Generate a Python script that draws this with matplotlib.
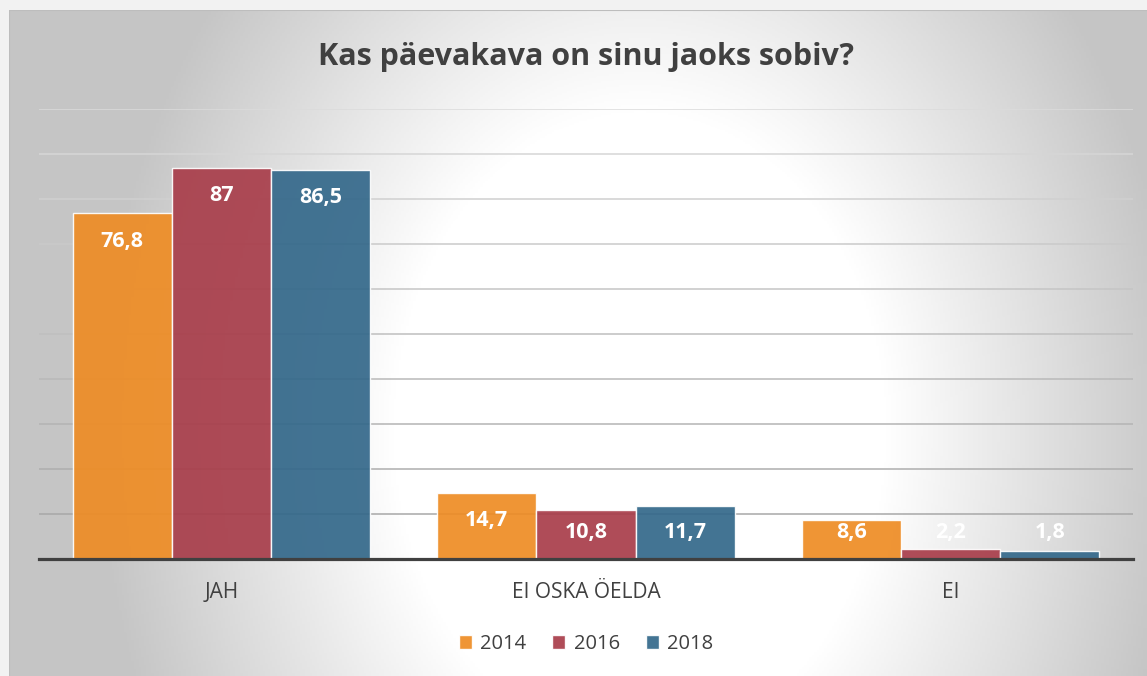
import numpy as np
import matplotlib
matplotlib.use("Agg")
import matplotlib.pyplot as plt

categories = ["JAH", "EI OSKA ÖELDA", "EI"]
years = ["2014", "2016", "2018"]
values_2014 = [76.8, 14.7, 8.6]
values_2016 = [87, 10.8, 2.2]
values_2018 = [86.5, 11.7, 1.8]
colors = ["#EE8C24", "#A83D4A", "#33688A"]
title = "Kas päevakava on sinu jaoks sobiv?"

plt.rcParams['font.family'] = ['Open Sans', 'DejaVu Sans']

W, H = 1147, 676
fig = plt.figure(figsize=(W/100, H/100), dpi=100)
fig.patch.set_facecolor("#f2f2f2")

# background gradient panel
x0, y0 = 9, 10
bg = fig.add_axes([x0/W, 0, 1 - x0/W, 1 - y0/H])
bg.set_axis_off()
xs = np.linspace(x0, W, 460)
ys = np.linspace(y0, H, 340)
X, Y = np.meshgrid(xs, ys)
cx, cy = 640, 430
t = np.sqrt(((X-cx)/620)**2 + ((Y-cy)/800)**2)
s = np.clip((t-0.4)/0.48, 0, 1)
v = 255 - 58*s
img = np.dstack([v, v, v]).astype(np.uint8)
bg.imshow(img, extent=[0, 1, 0, 1], aspect='auto', origin='upper')
bg.set_xlim(0, 1); bg.set_ylim(0, 1)
bg.plot([0, 1], [1, 1], color="#bdbdbd", lw=1.5)
bg.plot([0, 0], [0, 1], color="#bdbdbd", lw=1.5)

ax = fig.add_axes([39/W, (H-559)/H, (1133-39)/W, (559-109)/H])
ax.set_facecolor("none")
ax.set_xlim(-0.5, 2.5)
ax.set_ylim(0, 100)
for sp in ["top", "right", "left"]:
    ax.spines[sp].set_visible(False)
ax.spines["bottom"].set_color("#404040")
ax.spines["bottom"].set_linewidth(2.3)
ax.spines["bottom"].set_zorder(5)
ax.set_yticks([])
for g in range(10, 101, 10):
    c = 0.86 - 0.2*(100-g)/90
    ax.axhline(g, color=(c, c, c), lw=1.1, zorder=1)
ax.tick_params(axis='x', bottom=False, pad=13, labelsize=15, labelcolor="#404040")

xpos = np.arange(len(categories))
bw = 0.272
series = [values_2014, values_2016, values_2018]
for i, (vals, col, yr) in enumerate(zip(series, colors, years)):
    ax.bar(xpos + (i-1)*bw, vals, bw, color=col, alpha=0.92,
           edgecolor=(1, 1, 1, 0.5), lw=1, label=yr, zorder=2)
    for xb, val in zip(xpos + (i-1)*bw, vals):
        yl = max(val - 6.2, 5.8)
        ax.text(xb, yl, f"{val:g}".replace(".", ","), ha='center', va='center',
                color="white", fontsize=15.5, fontweight='bold', zorder=6)

ax.set_xticks(xpos)
ax.set_xticklabels(categories)

fig.text(586/W, 1 - 57/H, title, ha='center', va='center', fontsize=22,
         fontweight='bold', color="#404040")

leg = fig.legend(loc='center', bbox_to_anchor=(586/W, 1 - 644/H), ncol=3,
                 frameon=True, fontsize=14.5, handlelength=0.65, handleheight=0.65,
                 handletextpad=0.4, columnspacing=1.3, fancybox=False,
                 borderpad=0.5, facecolor="white", edgecolor="none", framealpha=0.2)
for txt in leg.get_texts():
    txt.set_color("#404040")

fig.savefig("out.png", dpi=100, facecolor=fig.get_facecolor())
